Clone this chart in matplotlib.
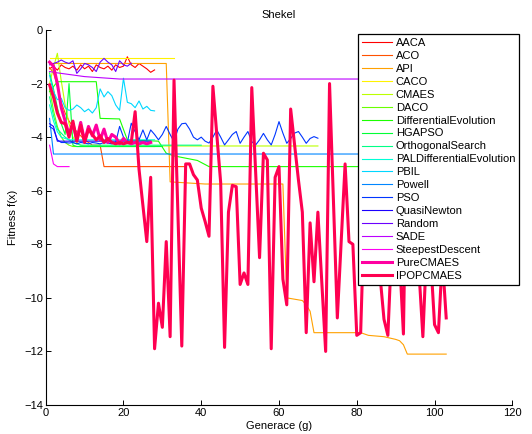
import matplotlib
matplotlib.use("Agg")
import matplotlib.pyplot as plt
from matplotlib.colors import hsv_to_rgb

plt.rcParams["font.family"] = ["Liberation Sans", "DejaVu Sans"]

# ---- best fitness per generation for each optimiser ----
aaca_g = list(range(1, 29))
aaca_f = [-1.45, -1.35, -1.5, -1.3, -1.4, -1.45, -1.35, -1.5, -1.3, -1.45,
          -1.35, -1.55, -1.3, -1.4, -1.45, -1.35, -1.5, -1.3, -1.4, -1.35,
          -1.0, -1.3, -1.4, -1.25, -1.35, -1.45, -1.58, -1.49]

aco_g = [1, 2, 3, 4, 5, 6, 7, 8, 9, 10, 11, 12, 13, 14, 15, 36]
aco_f = [-1.4, -1.6, -2.1, -2.7, -3.1, -3.4, -3.6, -3.8, -3.95, -4.1,
         -4.2, -4.3, -4.3, -4.3, -5.1, -5.1]

api_g = [1, 31, 32, 41, 61, 62, 66, 67, 68, 69, 81, 83, 87, 90, 91, 92, 93, 103]
api_f = [-1.25, -1.25, -5.67, -5.75, -5.75, -10.0, -10.1, -10.26, -10.5, -11.3,
         -11.3, -11.4, -11.45, -11.55, -11.6, -11.75, -12.1, -12.1]

caco_g = [1, 33]
caco_f = [-1.05, -1.05]

cmaes_g = [1, 2, 3, 4, 5, 6, 7, 8, 9, 10, 70]
cmaes_f = [-2.0, -1.4, -0.87, -1.9, -2.8, -3.5, -4.0, -4.2, -4.3, -4.33, -4.33]

daco_g = [1, 2, 3, 4, 5, 6, 7, 28]
daco_f = [-2.2, -3.0, -3.6, -4.0, -4.2, -4.3, -4.35, -4.35]

de_g = [1, 3, 13, 14, 19, 21, 29, 31, 33, 39, 42, 103]
de_f = [-2.3, -1.93, -1.93, -3.3, -3.32, -4.1, -4.15, -4.6, -4.7, -4.87, -5.1, -5.1]

hgapso_g = [1, 2, 3, 4, 5, 6, 7, 8, 30]
hgapso_f = [-1.6, -2.2, -2.9, -3.5, -3.9, -2.0, -4.3, -4.35, -4.35]

orth_g = [1, 2, 3, 5, 7, 9, 40]
orth_f = [-2.5, -3.2, -3.7, -4.0, -4.2, -4.3, -4.3]

pal_g = [1, 2, 3, 4, 6, 28]
pal_f = [-2.8, -3.4, -3.8, -4.0, -4.1, -4.1]

pbil_g = list(range(1, 29))
pbil_f = [-1.7, -2.3, -2.6, -2.55, -2.9, -3.0, -2.95, -2.8, -2.9, -3.05,
          -2.95, -3.1, -2.9, -2.2, -2.5, -2.3, -2.45, -2.8, -3.0, -1.8,
          -2.7, -2.75, -2.9, -2.65, -2.95, -2.85, -3.0, -3.02]

powell_g = [1, 2, 103]
powell_f = [-3.3, -4.63, -4.63]

pso_g = list(range(1, 71))
pso_f = [-3.6, -3.7, -4.1, -4.2, -4.2, -4.22, -4.2, -4.25, -4.2, -4.22,
         -4.25, -4.2, -4.22, -4.25, -4.2, -4.22, -4.25, -4.2, -3.6, -4.0,
         -4.2, -3.48, -3.8, -4.1, -3.73, -4.1, -3.73, -3.9, -4.1, -3.9,
         -3.6, -3.9, -4.17, -3.7, -3.5, -3.48, -3.7, -4.0, -4.1, -4.0,
         -4.15, -4.22, -4.0, -3.73, -4.0, -4.29, -4.1, -3.9, -3.79, -4.23,
         -4.0, -3.79, -4.17, -4.29, -4.1, -3.86, -4.1, -4.29, -3.9, -3.42,
         -3.85, -4.23, -4.05, -3.85, -3.79, -4.0, -4.23, -4.05, -3.98, -4.04]

qn_g = [1, 2, 3, 27]
qn_f = [-3.5, -3.6, -4.15, -4.15]

random_g = list(range(1, 23))
random_f = [-1.3, -1.25, -1.2, -1.12, -1.2, -1.25, -1.15, -1.62, -1.45, -1.25,
            -1.3, -1.4, -1.55, -1.2, -1.06, -1.2, -1.3, -1.55, -1.15, -1.3,
            -1.35, -1.24]

sade_g = [1, 3, 10, 19, 103]
sade_f = [-1.55, -1.6, -1.74, -1.83, -1.83]

steepest_g = [1, 2, 3, 6]
steepest_f = [-4.3, -5.0, -5.1, -5.1]

pure_g = list(range(1, 28))
pure_f = [-1.2, -1.35, -2.0, -2.9, -3.4, -3.9, -3.5, -4.1, -3.45, -4.15,
          -3.6, -3.95, -3.55, -4.1, -3.7, -4.2, -3.9, -4.0, -4.25, -4.05,
          -4.2, -4.25, -4.2, -4.25, -4.2, -4.25, -4.2]

ipop_g = list(range(1, 25)) + [26, 27, 28, 29, 30, 31, 32, 33, 35, 36, 37, 38,
         39, 40, 41, 42, 43, 45, 46, 47, 48, 49, 50, 51, 52, 53, 55, 56, 57,
         58, 59, 60, 61, 62, 63, 65, 66, 67, 68, 69, 70, 72, 73, 75, 77, 78,
         79, 80, 81, 82, 83, 84, 85, 86, 87, 88, 89, 90, 91, 92, 93, 94, 95,
         96, 97, 98, 99, 100, 101, 102, 103]
ipop_f = [-2.05, -2.5, -3.1, -3.45, -3.5, -4.0, -3.4, -4.15, -3.55, -4.2,
          -3.7, -3.9, -4.1, -3.95, -4.2, -4.05, -4.2, -4.25, -4.2, -4.25,
          -4.2, -4.2, -3.05, -5.2,
          -7.9, -5.5, -11.9, -10.2, -11.1, -7.9, -11.45, -1.87, -11.8, -5.0,
          -5.0, -5.4, -5.6, -6.65, -7.15, -7.7, -2.1, -5.7, -11.85, -6.8,
          -5.8, -5.85, -9.5, -9.07, -9.5, -2.15, -8.5, -4.6, -4.85, -11.9,
          -5.5, -5.1, -9.3, -10.26, -2.95, -5.6, -6.8, -11.3, -7.2, -9.4,
          -6.8, -12.0, -2.0, -10.75, -5.0, -7.9, -8.0, -11.4, -11.3, -6.5,
          -2.2, -5.5, -7.0, -9.2, -10.8, -11.4, -8.0, -6.0, -8.5, -11.35,
          -2.3, -5.5, -7.5, -9.0, -11.45, -8.0, -8.5, -11.0, -11.3, -8.5,
          -10.75]

names = ["AACA", "ACO", "API", "CACO", "CMAES", "DACO", "DifferentialEvolution",
         "HGAPSO", "OrthogonalSearch", "PALDifferentialEvolution", "PBIL",
         "Powell", "PSO", "QuasiNewton", "Random", "SADE", "SteepestDescent",
         "PureCMAES", "IPOPCMAES"]
series = [(aaca_g, aaca_f), (aco_g, aco_f), (api_g, api_f), (caco_g, caco_f),
          (cmaes_g, cmaes_f), (daco_g, daco_f), (de_g, de_f),
          (hgapso_g, hgapso_f), (orth_g, orth_f), (pal_g, pal_f),
          (pbil_g, pbil_f), (powell_g, powell_f), (pso_g, pso_f),
          (qn_g, qn_f), (random_g, random_f), (sade_g, sade_f),
          (steepest_g, steepest_f), (pure_g, pure_f), (ipop_g, ipop_f)]

W, H = 532, 434
fig = plt.figure(figsize=(W / 100, H / 100), dpi=100)
ax = fig.add_axes([45.7 / W, 1 - 405 / H, (512.3 - 45.7) / W, (405 - 30) / H])

n = len(names)
for i, (name, (g, f)) in enumerate(zip(names, series)):
    color = hsv_to_rgb((i / n, 1.0, 1.0))
    thick = name in ("PureCMAES", "IPOPCMAES")
    ax.plot(g, f, color=color, lw=2.2 if thick else 0.8, label=name)

ax.set_xlim(0, 120)
ax.set_ylim(-14, 0)
ax.set_xticks(range(0, 121, 20))
ax.set_yticks(range(-14, 1, 2))
ax.set_yticklabels(["\u221214", "\u221212", "\u221210", "\u22128", "\u22126",
                    "\u22124", "\u22122", "0"])
ax.tick_params(direction="in", length=3.5, width=0.7, labelsize=8, pad=2)
for side in ("top", "right"):
    ax.spines[side].set_visible(False)
for side in ("left", "bottom"):
    ax.spines[side].set_linewidth(0.8)

ax.set_title("Shekel", fontsize=8, pad=9)
ax.set_xlabel("Generace (g)", fontsize=8, labelpad=2)
ax.set_ylabel("Fitness f(x)", fontsize=8, labelpad=4)

leg = ax.legend(loc="upper left", bbox_to_anchor=(358 / W, 1 - 34 / H),
                bbox_transform=fig.transFigure, fontsize=8, frameon=True,
                fancybox=False, edgecolor="black", framealpha=1,
                handlelength=2.7, handletextpad=0.35, labelspacing=0.265,
                borderpad=0.35, borderaxespad=0)
leg.get_frame().set_linewidth(0.9)

fig.savefig("out.png", dpi=100)
